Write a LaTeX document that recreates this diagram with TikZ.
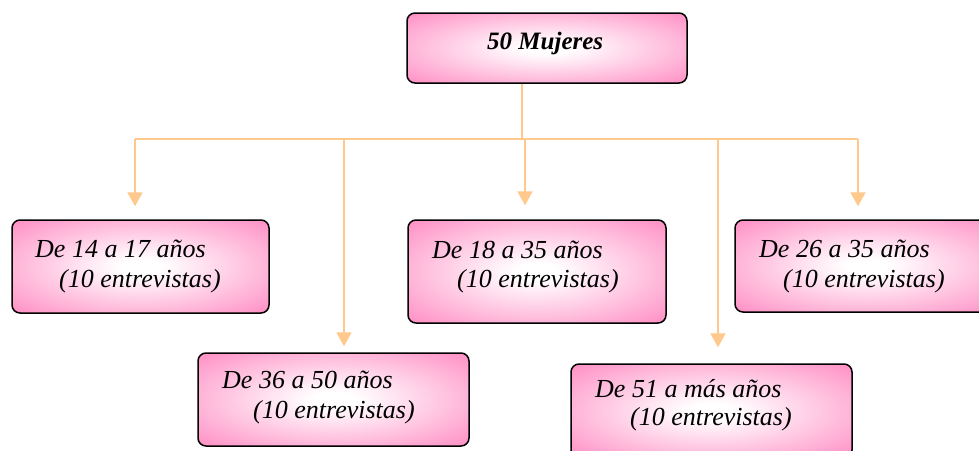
\documentclass[tikz,border=0pt]{standalone}
\usepackage{fontspec}
\setmainfont{Liberation Serif}
\usetikzlibrary{arrows.meta}
\definecolor{boxpink}{RGB}{255,140,195}
\definecolor{peach}{RGB}{255,200,140}
\pgfdeclareradialshading{pinkglow}{\pgfpoint{0bp}{0bp}}{color(0bp)=(white); color(4bp)=(white); color(36bp)=(boxpink); color(50bp)=(boxpink)}
\begin{document}
\begin{tikzpicture}[x=1pt,y=-1pt,
  box/.style={rectangle, draw=black, line width=1.5pt, rounded corners=8pt, shading=pinkglow, inner sep=0pt},
  lbl/.style={anchor=base west, inner sep=0pt, font=\fontsize{26}{30}\selectfont\itshape},
  conn/.style={draw=peach, line width=2pt},
  arr/.style={conn, -{Triangle[length=14pt,width=15pt]}}]
\useasboundingbox (0,0) rectangle (979,450);
\clip (0,0) rectangle (979,450);

% boxes
\node[box, minimum width=280pt, minimum height=70pt] (top) at (547,48) {};
\node[box, minimum width=257pt, minimum height=93pt] (b1) at (140.5,266.5) {};
\node[box, minimum width=258pt, minimum height=103pt] (b2) at (537,271.5) {};
\node[box, minimum width=265pt, minimum height=92pt] (b3) at (867.5,266) {};
\node[box, minimum width=271pt, minimum height=93pt] (b4) at (333.5,399.5) {};
\node[box, minimum width=281pt, minimum height=94pt] (b5) at (711.5,411) {};

% texts
\node[lbl, font=\fontsize{25}{30}\selectfont\bfseries\itshape] (ttop) at (487,49) {50 Mujeres};
\node[lbl] (t1a) at (35,257) {De 14 a 17 años};
\node[lbl] (t1b) at (59,287) {(10 entrevistas)};
\node[lbl] (t2a) at (432,258) {De 18 a 35 años};
\node[lbl] (t2b) at (457,287) {(10 entrevistas)};
\node[lbl] (t3a) at (759,257) {De 26 a 35 años};
\node[lbl] (t3b) at (783,287) {(10 entrevistas)};
\node[lbl] (t4a) at (222,388) {De 36 a 50 años};
\node[lbl] (t4b) at (253,418) {(10 entrevistas)};
\node[lbl] (t5a) at (595,397) {De 51 a más años};
\node[lbl] (t5b) at (630,425) {(10 entrevistas)};

% connectors
\coordinate (j) at (522,139);
\coordinate (d1) at (135,139);
\coordinate (d4) at (344,139);
\coordinate (d2) at (525,139);
\coordinate (d5) at (718,139);
\coordinate (d3) at (858,139);
\draw[conn] (top.south -| j) -- (j);
\draw[conn] (d1) -- (d3);
\draw[arr, shorten >=13pt] (d1) -- (d1 |- b1.north);
\draw[arr, shorten >=6pt] (d4) -- (d4 |- b4.north);
\draw[arr, shorten >=14pt] (d2) -- (d2 |- b2.north);
\draw[arr, shorten >=16pt] (d5) -- (d5 |- b5.north);
\draw[arr, shorten >=13pt] (d3) -- (d3 |- b3.north);
\end{tikzpicture}
\end{document}
